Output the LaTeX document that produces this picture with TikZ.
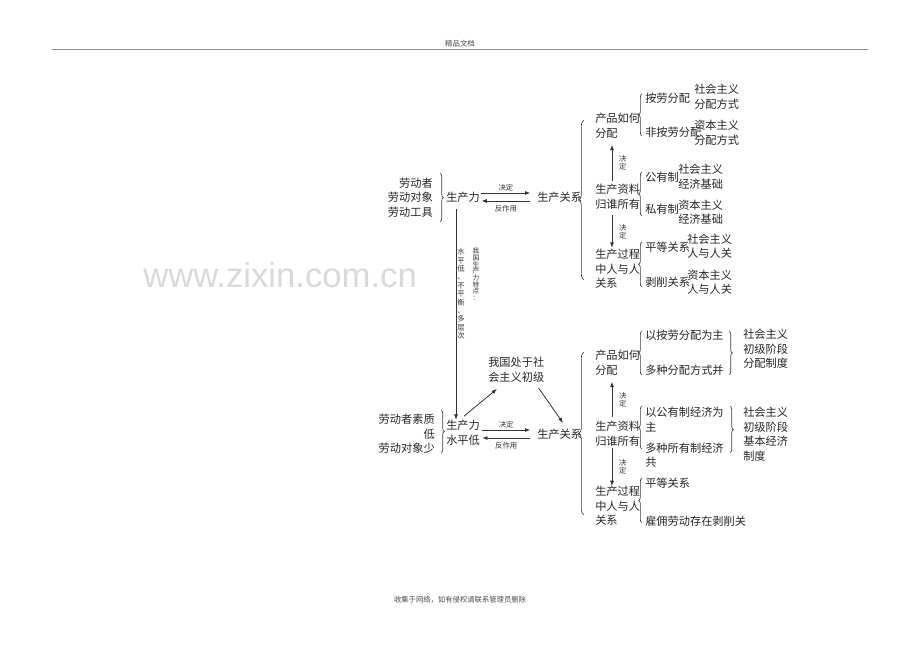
\documentclass[tikz,border=0pt]{standalone}
\usepackage{fontspec}
\setmainfont{Liberation Serif}
\newfontfamily\cjk{Noto Sans CJK SC}
\newfontfamily\wmfont{Liberation Sans}
\usetikzlibrary{arrows.meta,decorations.pathreplacing,calc}
\begin{document}
\begin{tikzpicture}[x=0.75pt,y=-0.75pt,
  txt/.style={inner sep=0pt, align=left, anchor=west, font=\cjk\fontsize{8.4}{10.9}\selectfont, text=black!85},
  rtxt/.style={txt, align=right, anchor=east},
  sm/.style={inner sep=0pt, font=\cjk\fontsize{5.5}{6.3}\selectfont, text=black!80},
  vt/.style={sm, align=center},
  arr/.style={draw=black!80, line width=0.6pt, -{Latex[length=4pt,width=3pt]}},
  brc/.style={draw=black!75, line width=0.5pt, decorate, decoration={brace, amplitude=2.5pt}},
  bigbrc/.style={brc, decoration={brace, amplitude=4pt}}]

\useasboundingbox (0,0) rectangle (920,650);
\fill[white] (0,0) rectangle (920,650);

% header / footer / watermark
\node[sm, font=\cjk\fontsize{5.6}{6}\selectfont, text=black!70] (hdr) at (460,44) {精品文档};
\draw[black!45, line width=0.5pt] (52,49) -- (868,49);
\node[inner sep=0pt, anchor=base west, font=\wmfont\fontsize{26}{30}\selectfont, text=black!15] (wm) at (143,287) {www.zixin.com.cn};
\node[sm, font=\cjk\fontsize{5.5}{6}\selectfont, text=black!70] (ftr) at (460,600) {收集于网络，如有侵权请联系管理员删除};

% ===== top section =====
\node[rtxt] (inp1) at (433,197.5) {劳动者\\劳动对象\\劳动工具};
\draw[brc] (440,173) -- (440,222);
\node[txt] (sl1) at (446,197) {生产力};
\node[txt] (sr1) at (537,197) {生产关系};
\draw[arr] ([shift={(1pt,3pt)}]sl1.east) -- ([shift={(-5pt,3pt)}]sr1.west)
  node[midway, above=1pt, sm] (jd1) {决定};
\draw[arr] ([shift={(-5pt,-3pt)}]sr1.west) -- ([shift={(1pt,-3pt)}]sl1.east)
  node[midway, below=3pt, sm] (fz1) {反作用};

\draw[bigbrc] (584,280) -- (584,120);

\node[txt] (p1) at (595,126) {产品如何\\分配};
\draw[brc] (642,136) -- (642,94);
\node[txt] (a1) at (645,98) {按劳分配};
\node[txt] (a2) at (645,132) {非按劳分配};
\node[txt] (r1) at (694,97) {社会主义\\分配方式};
\node[txt] (r2) at (694,133) {资本主义\\分配方式};

\node[txt] (p2) at (595,196.5) {生产资料\\归谁所有};
\draw[brc] (642,216) -- (642,172);
\node[txt] (b1) at (645,177) {公有制};
\node[txt] (b2) at (645,209) {私有制};
\node[txt] (r3) at (678,176.5) {社会主义\\经济基础};
\node[txt] (r4) at (678,212) {资本主义\\经济基础};

\node[txt] (p3) at (595,269) {生产过程\\中人与人\\关系};
\draw[brc] (642,287) -- (642,242);
\node[txt] (c1) at (645,247) {平等关系};
\node[txt] (c2) at (645,282) {剥削关系};
\node[txt] (r5) at (687,246) {社会主义\\人与人关};
\node[txt] (r6) at (687,282) {资本主义\\人与人关};

\draw[arr] ([shift={(12.75pt,2pt)}]p2.north west) -- ([shift={(12.75pt,-4.5pt)}]p1.south west)
  node[midway, right=5pt, vt] (jd2) {决\\定};
\draw[arr] ([shift={(12.75pt,-4.5pt)}]p2.south west) -- ([shift={(12.75pt,1pt)}]p3.north west)
  node[midway, right=5pt, vt] (jd3) {决\\定};

% vertical link between the two sections
\node[txt] (sl2) at (446,432.5) {生产力\\水平低};
\draw[arr] ([shift={(7.5pt,-5pt)}]sl1.south west) -- ([xshift=7.5pt]sl2.north west);
\node[vt, font=\cjk\fontsize{5}{5}\selectfont] (f1) at (476,274.5) {我\\国\\生\\产\\力\\特\\点\\：};
\node[vt, font=\cjk\fontsize{5.5}{6.3}\selectfont] (f2) at (461,294) {水\\平\\低\\、\\不\\平\\衡\\、\\多\\层\\次};

% ===== lower section =====
\node[rtxt] (inp2) at (435,434) {劳动者素质\\低\\劳动对象少};
\draw[brc] (441,410) -- (441,453);
\node[txt] (cz) at (488,369.5) {我国处于社\\会主义初级};
\node[txt] (sr2) at (537,434) {生产关系};
\draw[arr] ($(sl2.east |- sr2.west)+(1.5pt,3pt)$) -- ($(sr2.west)+(-5pt,3pt)$)
  node[midway, above=1pt, sm] (jd4) {决定};
\draw[arr] ($(sr2.west)+(-5pt,-3pt)$) -- ($(sl2.east |- sr2.west)+(1.5pt,-3pt)$)
  node[midway, below=3pt, sm] (fz2) {反作用};
\draw[arr] ([shift={(13.5pt,2.7pt)}]sl2.north west) -- ([shift={(6.75pt,-5pt)}]cz.south west);
\draw[arr] ([shift={(-4.5pt,-4.3pt)}]cz.south east) -- ([shift={(19.5pt,4.2pt)}]sr2.north west);

\draw[bigbrc] (584,515) -- (584,352);

\node[txt] (q1) at (595,363) {产品如何\\分配};
\draw[brc] (642,375) -- (642,331);
\node[txt] (d1) at (645,335) {以按劳分配为主};
\node[txt] (d2) at (645,370) {多种分配方式并};
\draw[brc] (729,331) -- (729,375);
\node[txt] (s1) at (743,349) {社会主义\\初级阶段\\分配制度};

\node[txt] (q2) at (595,433.5) {生产资料\\归谁所有};
\draw[brc] (642,449) -- (642,406);
\node[txt] (e1) at (645,419.5) {以公有制经济为\\主};
\node[txt] (e2) at (645,455) {多种所有制经济\\共};
\draw[brc] (730,406) -- (730,453);
\node[txt] (s2) at (743,434) {社会主义\\初级阶段\\基本经济\\制度};

\node[txt] (q3) at (595,506) {生产过程\\中人与人\\关系};
\draw[brc] (642,523) -- (642,478);
\node[txt] (g1) at (645,483) {平等关系};
\node[txt] (g2) at (645,521) {雇佣劳动存在剥削关};

\draw[arr] ([shift={(12.75pt,2.7pt)}]q2.north west) -- ([shift={(12.75pt,-4.5pt)}]q1.south west)
  node[midway, right=5pt, vt] (jd5) {决\\定};
\draw[arr] ([shift={(12.75pt,-1.2pt)}]q2.south west) -- ([shift={(12.75pt,0pt)}]q3.north west)
  node[midway, right=5pt, vt] (jd6) {决\\定};
\end{tikzpicture}
\end{document}
